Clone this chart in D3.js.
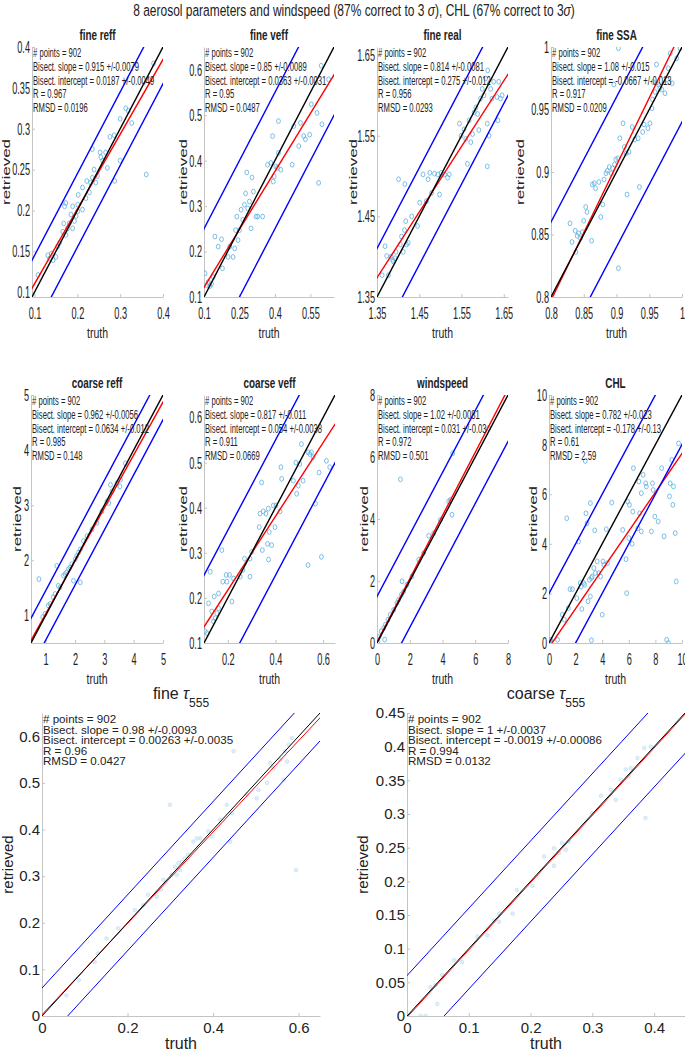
<!DOCTYPE html>
<html>
<head>
<meta charset="utf-8">
<script src="https://cdn.jsdelivr.net/npm/d3@7"></script>
<style>
  body { margin: 0; background: #fff; }
  svg { display: block; }
  text { font-family: "Liberation Sans", Arial, Helvetica, sans-serif; fill: #222; }
</style>
</head>
<body>
<svg id="fig" width="685" height="1050"></svg>
<script>
// ---- data ----
const panelNames = ["fine reff", "fine veff", "fine real", "fine SSA",
  "coarse reff", "coarse veff", "windspeed", "CHL", "fine τ", "coarse τ"];
const nPoints = 902;
const slopes = [0.915, 0.85, 0.814, 1.08, 0.962, 0.817, 1.02, 0.782, 0.98, 1];
const slopeErrs = [0.0079, 0.0089, 0.0081, 0.015, 0.0056, 0.011, 0.0081, 0.023, 0.0093, 0.0037];
const intercepts = [0.0187, 0.0363, 0.275, -0.0667, 0.0634, 0.054, 0.031, -0.178, 0.00263, -0.0019];
const interceptErrs = [0.0049, 0.0031, 0.012, 0.013, 0.012, 0.0038, 0.03, 0.13, 0.0035, 0.00086];
const rValues = [0.967, 0.95, 0.956, 0.917, 0.985, 0.911, 0.972, 0.61, 0.96, 0.994];
const rmsdValues = [0.0196, 0.0487, 0.0293, 0.0209, 0.148, 0.0669, 0.501, 2.59, 0.0427, 0.0132];
const sigma3 = [0.045, 0.15, 0.06, 0.06, 0.45, 0.15, 1.5, 2, 0.06, 0.06];   // 3 sigma band half width
const axisRanges = [[0.094, 0.4], [0.1, 0.65], [1.35, 1.66], [0.8, 1],
  [0.5, 5], [0.1, 0.65], [0, 8], [0, 10], [0, 0.65], [0, 0.45]];
const xTicks = [[0.1, 0.2, 0.3, 0.4], [0.1, 0.25, 0.4, 0.55], [1.35, 1.45, 1.55, 1.65], [0.8, 0.85, 0.9, 0.95, 1],
  [1, 2, 3, 4, 5], [0.2, 0.4, 0.6], [0, 2, 4, 6, 8], [0, 2, 4, 6, 8, 10], [0, 0.2, 0.4, 0.6], [0, 0.1, 0.2, 0.3, 0.4]];
const yTicks = [[0.1, 0.15, 0.2, 0.25, 0.3, 0.35, 0.4], [0.1, 0.2, 0.3, 0.4, 0.5, 0.6], [1.35, 1.45, 1.55, 1.65],
  [0.8, 0.85, 0.9, 0.95, 1], [1, 2, 3, 4, 5], [0.1, 0.2, 0.3, 0.4, 0.5, 0.6], [0, 2, 4, 6, 8], [0, 2, 4, 6, 8, 10],
  [0, 0.1, 0.2, 0.3, 0.4, 0.5, 0.6], [0, 0.05, 0.1, 0.15, 0.2, 0.25, 0.3, 0.35, 0.4, 0.45]];

// scatter points [truth, retrieved]
const fineReffPts = [[0.108,0.121],[0.131,0.145],[0.135,0.141],[0.139,0.147],[0.143,0.139],[0.150,0.143],[0.154,0.156],
  [0.158,0.160],[0.166,0.174],[0.168,0.184],[0.170,0.205],[0.173,0.209],[0.173,0.170],[0.177,0.178],[0.181,0.184],
  [0.185,0.195],[0.189,0.205],[0.189,0.178],[0.193,0.187],[0.197,0.193],[0.201,0.199],[0.202,0.219],[0.201,0.207],
  [0.212,0.228],[0.212,0.201],[0.220,0.215],[0.222,0.236],[0.228,0.222],[0.231,0.234],[0.235,0.240],[0.235,0.275],
  [0.239,0.250],[0.243,0.234],[0.247,0.242],[0.253,0.271],[0.255,0.265],[0.259,0.261],[0.266,0.271],[0.270,0.252],
  [0.276,0.290],[0.286,0.292],[0.287,0.236],[0.300,0.261],[0.300,0.312],[0.313,0.325],[0.319,0.322],[0.327,0.307],
  [0.361,0.244],[0.378,0.380]];
const fineVeffPts = [[0.104,0.152],[0.111,0.126],[0.118,0.133],[0.125,0.124],[0.132,0.129],[0.139,0.144],[0.146,0.233],
  [0.160,0.211],[0.174,0.227],[0.178,0.163],[0.202,0.188],[0.209,0.211],[0.223,0.188],[0.230,0.207],[0.234,0.247],
  [0.239,0.277],[0.244,0.225],[0.250,0.247],[0.257,0.292],[0.264,0.270],[0.271,0.303],[0.276,0.328],[0.281,0.374],
  [0.285,0.295],[0.292,0.310],[0.299,0.251],[0.303,0.363],[0.309,0.332],[0.320,0.277],[0.327,0.277],[0.348,0.277],
  [0.369,0.391],[0.383,0.395],[0.390,0.454],[0.393,0.354],[0.397,0.365],[0.404,0.387],[0.411,0.384],[0.415,0.417],
  [0.415,0.487],[0.425,0.380],[0.473,0.391],[0.480,0.476],[0.501,0.432],[0.508,0.483],[0.522,0.454],[0.529,0.447],
  [0.547,0.457],[0.554,0.524],[0.578,0.505],[0.585,0.351],[0.599,0.480],[0.596,0.609],[0.627,0.579]];
const fineRealPts = [[1.362,1.377],[1.369,1.413],[1.373,1.401],[1.377,1.377],[1.383,1.400],[1.387,1.396],[1.389,1.394],
  [1.393,1.398],[1.395,1.406],[1.401,1.496],[1.405,1.415],[1.408,1.425],[1.412,1.406],[1.415,1.433],[1.416,1.490],
  [1.418,1.444],[1.420,1.415],[1.424,1.417],[1.432,1.450],[1.446,1.438],[1.451,1.467],[1.459,1.502],[1.467,1.469],
  [1.471,1.496],[1.475,1.504],[1.479,1.479],[1.486,1.503],[1.494,1.502],[1.498,1.477],[1.502,1.504],[1.510,1.502],
  [1.517,1.498],[1.521,1.502],[1.545,1.565],[1.549,1.550],[1.556,1.558],[1.560,1.546],[1.564,1.515],[1.568,1.569],
  [1.572,1.542],[1.576,1.552],[1.580,1.579],[1.584,1.585],[1.588,1.577],[1.591,1.557],[1.595,1.596],[1.599,1.608],
  [1.603,1.600],[1.607,1.621],[1.611,1.565],[1.611,1.512],[1.612,1.631],[1.615,1.550],[1.619,1.608],[1.622,1.596],
  [1.626,1.617],[1.634,1.598],[1.636,1.569],[1.638,1.617],[1.642,1.596],[1.646,1.600]];
const fineSsaPts = [[0.829,0.859],[0.832,0.844],[0.837,0.853],[0.838,0.836],[0.840,0.849],[0.842,0.851],[0.845,0.847],
  [0.848,0.852],[0.850,0.861],[0.853,0.872],[0.855,0.868],[0.862,0.845],[0.863,0.890],[0.866,0.891],[0.868,0.887],
  [0.873,0.892],[0.876,0.864],[0.879,0.874],[0.881,0.894],[0.884,0.899],[0.886,0.901],[0.889,0.904],[0.892,0.899],
  [0.894,0.903],[0.897,0.906],[0.899,0.910],[0.902,0.911],[0.903,0.823],[0.905,0.927],[0.910,0.939],[0.912,0.920],
  [0.915,0.915],[0.916,0.882],[0.919,0.916],[0.924,0.936],[0.928,0.926],[0.933,0.927],[0.935,0.888],[0.940,0.932],
  [0.942,0.938],[0.948,0.935],[0.951,0.939],[0.954,0.951],[0.955,0.958],[0.956,0.972],[0.959,0.964],[0.961,0.986],
  [0.964,0.970],[0.966,0.967],[0.969,0.966],[0.974,0.963],[0.977,0.974],[0.979,0.983],[0.982,0.995],[0.985,0.971],
  [0.992,0.991],[0.997,0.999],[0.903,0.999],[0.896,0.970]];
const coarseReffPts = [[0.77,1.66],[0.90,0.97],[0.98,1.03],[1.09,1.18],[1.15,1.21],[1.26,1.33],[1.32,1.39],[1.38,1.90],
  [1.43,1.54],[1.49,1.51],[1.61,1.72],[1.66,1.75],[1.72,1.78],[1.78,1.84],[1.83,1.87],[1.89,1.93],[1.95,1.63],
  [2.01,2.02],[2.06,2.08],[2.12,2.14],[2.18,1.60],[2.18,2.20],[2.29,2.35],[2.41,2.44],[2.58,2.56],[2.75,2.68],
  [2.92,2.89],[3.09,3.07],[3.15,3.04],[3.21,3.37],[3.26,3.25],[3.43,3.40],[3.53,3.34],[3.55,3.46],[3.72,3.76]];
const coarseVeffPts = [[0.105,0.126],[0.112,0.122],[0.119,0.188],[0.126,0.258],[0.133,0.170],[0.140,0.148],[0.143,0.203],
  [0.147,0.155],[0.154,0.166],[0.161,0.210],[0.161,0.177],[0.175,0.306],[0.179,0.236],[0.193,0.251],[0.196,0.236],
  [0.207,0.251],[0.217,0.192],[0.224,0.243],[0.252,0.247],[0.263,0.262],[0.270,0.287],[0.293,0.247],[0.293,0.287],
  [0.300,0.302],[0.332,0.357],[0.335,0.387],[0.342,0.456],[0.345,0.306],[0.349,0.392],[0.360,0.387],[0.367,0.320],
  [0.370,0.398],[0.371,0.285],[0.374,0.346],[0.384,0.317],[0.391,0.405],[0.398,0.357],[0.402,0.405],[0.419,0.392],
  [0.423,0.490],[0.426,0.464],[0.475,0.460],[0.486,0.500],[0.489,0.431],[0.496,0.449],[0.502,0.497],[0.509,0.541],
  [0.516,0.460],[0.537,0.523],[0.544,0.519],[0.551,0.523],[0.558,0.512],[0.568,0.409],[0.583,0.478],[0.537,0.273],
  [0.593,0.291],[0.614,0.504],[0.628,0.490]];
const windPts = [[0.06,0.05],[0.14,0.21],[0.26,0.38],[0.41,0.48],[0.47,0.11],[0.51,0.59],[0.67,0.75],[0.81,0.91],
  [1.02,1.07],[1.22,1.29],[1.32,1.40],[1.43,5.28],[1.49,1.56],[1.53,1.99],[1.63,1.66],[1.83,1.88],[2.14,2.15],
  [2.55,2.69],[2.85,2.90],[3.16,3.46],[3.46,3.54],[3.87,3.97],[4.38,4.57],[4.48,4.62],[4.58,4.14],[4.62,6.12],[6.82,6.93]];
const chlPts = [[0.05,0.07],[0.13,0.13],[0.64,0.13],[1.0,1.14],[1.15,0.94],[1.33,5.03],[1.45,1.41],[1.58,2.17],[1.76,2.17],
  [2.09,1.81],[2.22,4.09],[2.35,2.42],[2.42,2.28],[2.47,1.37],[2.60,2.42],[2.68,2.35],[2.73,7.34],[2.78,5.23],[2.86,4.83],
  [2.93,1.68],[3.04,2.55],[3.11,5.64],[3.11,1.88],[3.19,2.62],[3.19,0.11],[3.24,2.68],[3.37,3.02],[3.44,4.54],[3.49,2.82],
  [3.62,3.29],[3.75,2.82],[3.88,2.68],[4.0,1.14],[4.06,3.29],[4.13,3.15],[4.31,4.59],[4.39,3.22],[4.72,5.66],[5.54,4.56],
  [5.79,3.38],[5.84,2.01],[5.92,5.70],[6.0,4.23],[6.05,5.57],[6.25,4.0],[6.30,5.30],[6.35,7.05],[6.68,4.63],[6.76,6.51],
  [6.81,5.23],[6.94,6.04],[6.94,4.50],[7.07,6.78],[7.27,6.44],[7.32,6.31],[7.70,4.50],[7.78,6.44],[7.83,6.17],[7.96,5.10],
  [8.21,4.90],[8.47,7.05],[8.65,4.30],[8.85,0.13],[8.98,0.0],[9.06,5.91],[9.11,6.44],[9.23,7.38],[9.31,5.57],[9.36,6.31],
  [9.49,4.43],[9.57,2.48],[9.74,8.05]];
const fineTauPts = [[0.057,0.044],[0.086,0.077],[0.123,0.116],[0.131,0.134],[0.151,0.166],[0.178,0.188],[0.217,0.227],
  [0.237,0.238],[0.248,0.260],[0.268,0.256],[0.278,0.272],[0.284,0.292],[0.299,0.453],[0.303,0.303],[0.311,0.320],
  [0.315,0.303],[0.319,0.328],[0.323,0.313],[0.327,0.331],[0.334,0.338],[0.342,0.346],[0.354,0.374],[0.362,0.381],
  [0.370,0.381],[0.389,0.396],[0.397,0.385],[0.416,0.421],[0.432,0.453],[0.440,0.374],[0.444,0.435],[0.448,0.568],
  [0.479,0.475],[0.502,0.467],[0.506,0.485],[0.526,0.500],[0.534,0.543],[0.541,0.532],[0.557,0.550],[0.565,0.507],
  [0.569,0.568],[0.573,0.546],[0.577,0.582],[0.584,0.596],[0.594,0.313]];
const coarseTauPts = [[0.022,0.0],[0.030,0.0],[0.038,0.043],[0.046,0.046],[0.049,0.018],[0.057,0.061],[0.076,0.083],
  [0.089,0.080],[0.114,0.118],[0.130,0.120],[0.141,0.142],[0.149,0.152],[0.149,0.140],[0.171,0.152],[0.178,0.187],
  [0.203,0.193],[0.222,0.237],[0.238,0.223],[0.238,0.249],[0.246,0.242],[0.251,0.257],[0.257,0.247],[0.262,0.259],
  [0.300,0.301],[0.314,0.327],[0.330,0.336],[0.338,0.321],[0.346,0.351],[0.354,0.366],[0.359,0.356],[0.362,0.368],
  [0.373,0.383],[0.384,0.398],[0.386,0.294],[0.395,0.400]];
const allPts = [fineReffPts, fineVeffPts, fineRealPts, fineSsaPts, coarseReffPts, coarseVeffPts,
  windPts, chlPts, fineTauPts, coarseTauPts];

// ---- layout ----
const boxes = [ // left, top, width, height
  [32, 47, 131, 250], [204, 47, 130, 250], [377, 47, 131, 250], [551, 47, 131, 250],
  [31, 395, 132, 248], [204, 395, 131, 248], [377, 395, 131, 248], [549, 395, 133, 248],
  [42, 713, 278, 303], [407, 713, 278, 303]];
const ylabX = [10, 187, 357, 524, 21, 187, 368, 537, 13, 368];

// the 8 small panels are squeezed horizontally in the original figure
const smallStyle = { tickFont: 17, tickSx: 0.54, xPad: 10, statFont: 13, statSx: 0.59, statY: 10, statDy: 13.75,
  titleFont: 15, titleSx: 0.66, titleY: -7, titleBold: true, truthFont: 15, truthSx: 0.7, truthY: 41,
  ylabFont: 17, ylabSx: 0.6, lineW: 1.4 };
const bigStyle = { tickFont: 15, tickSx: 1, xPad: 6, statFont: 11.6, statSx: 1, statY: 10, statDy: 10.5,
  titleFont: 16, titleSx: 1, titleY: -14, titleBold: false, truthFont: 16, truthSx: 1, truthY: 33,
  ylabFont: 15, ylabSx: 1, lineW: 1 };

const svg = d3.select("#fig");

// super title, fitted to the width it has in the figure
const sup = svg.append("g").attr("transform", "translate(354,16)");
const supText = sup.append("text").attr("text-anchor", "middle").attr("font-size", 17);
supText.append("tspan").text("8 aerosol parameters and windspeed (87% correct to 3 ");
supText.append("tspan").attr("font-style", "italic").text("σ");
supText.append("tspan").text("), CHL (67% correct to 3");
supText.append("tspan").attr("font-style", "italic").text("σ");
supText.append("tspan").text(")");
const supLen = supText.node().getComputedTextLength();
sup.attr("transform", `translate(354,16) scale(${442 / supLen},1)`);

boxes.forEach((b, i) => {
  const [L, T, W, H] = b;
  const st = i < 8 ? smallStyle : bigStyle;
  const x = d3.scaleLinear().domain(axisRanges[i]).range([0, W]);
  const y = d3.scaleLinear().domain(axisRanges[i]).range([H, 0]);
  const g = svg.append("g").attr("transform", `translate(${L},${T})`);

  g.append("clipPath").attr("id", "clip" + i)
    .append("rect").attr("width", W).attr("height", H);

  // axes
  const xa = g.append("g").attr("transform", `translate(0,${H})`)
    .call(d3.axisBottom(x).tickValues(xTicks[i]).tickFormat(d => String(d))
      .tickSizeInner(-3).tickSizeOuter(0).tickPadding(st.xPad));
  const ya = g.append("g")
    .call(d3.axisLeft(y).tickValues(yTicks[i]).tickFormat(d => String(d))
      .tickSizeInner(-3).tickSizeOuter(0).tickPadding(2));
  [xa, ya].forEach(a => {
    a.attr("font-family", null).attr("font-size", null);
    a.select(".domain").attr("stroke", "#c4c4c4");
    a.selectAll(".tick line").attr("stroke", "#c4c4c4");
    a.selectAll(".tick text").attr("font-size", st.tickFont).attr("fill", "#262626");
  });
  xa.selectAll(".tick text").attr("transform", `scale(${st.tickSx},1)`);
  ya.selectAll(".tick text").attr("x", 0).attr("transform", `translate(-2,0) scale(${st.tickSx},1)`);

  // scatter
  const pg = g.append("g").attr("clip-path", `url(#clip${i})`);
  if (i < 8) {
    pg.selectAll("ellipse").data(allPts[i]).enter().append("ellipse")
      .attr("cx", d => x(d[0])).attr("cy", d => y(d[1]))
      .attr("rx", 1.9).attr("ry", 2.4)
      .attr("fill", "none").attr("stroke", "#5aaee0").attr("stroke-width", 0.8);
  } else {
    pg.selectAll("circle").data(allPts[i]).enter().append("circle")
      .attr("cx", d => x(d[0])).attr("cy", d => y(d[1])).attr("r", 1.8)
      .attr("fill", "#e2f0fa").attr("stroke", "#bddcf2").attr("stroke-width", 0.7);
  }

  // lines: fit (red), 1:1 (black), +/- 3 sigma (blue)
  const [d0, d1] = axisRanges[i];
  const ext = (d1 - d0) * 0.5;
  const xs = [d0 - ext, d1 + ext];
  const lineFor = f => xs.map(v => [x(v), y(f(v))]);
  const lines = [
    { pts: lineFor(v => slopes[i] * v + intercepts[i]), c: "#ff0000" },
    { pts: lineFor(v => v), c: "#000000" },
    { pts: lineFor(v => v + sigma3[i]), c: "#0000ff" },
    { pts: lineFor(v => v - sigma3[i]), c: "#0000ff" }
  ];
  pg.selectAll("path.fit").data(lines).enter().append("path")
    .attr("class", "fit")
    .attr("d", d => d3.line()(d.pts))
    .attr("fill", "none").attr("stroke", d => d.c).attr("stroke-width", st.lineW);

  // statistics text
  const stats = [
    `# points = ${nPoints}`,
    `Bisect. slope = ${slopes[i]} +/-${slopeErrs[i]}`,
    `Bisect. intercept = ${intercepts[i]} +/-${interceptErrs[i]}`,
    `R = ${rValues[i]}`,
    `RMSD = ${rmsdValues[i]}`
  ];
  stats.forEach((s, k) => {
    g.append("g").attr("transform", `translate(1,${st.statY + k * st.statDy}) scale(${st.statSx},1)`)
      .append("text").attr("font-size", st.statFont).attr("fill", "#111").text(s);
  });

  // panel title
  const tg = g.append("g").attr("transform", `translate(${W / 2},${st.titleY}) scale(${st.titleSx},1)`);
  const tt = tg.append("text").attr("text-anchor", "middle").attr("font-size", st.titleFont)
    .attr("font-weight", st.titleBold ? "bold" : "normal").attr("fill", "#000");
  if (i < 8) {
    tt.text(panelNames[i]);
  } else {
    const parts = panelNames[i].split("τ");
    tt.append("tspan").text(parts[0]);
    tt.append("tspan").attr("font-style", "italic").text("τ");
    tt.append("tspan").attr("font-size", 12).attr("dy", 8).text("555");
  }

  // axis labels
  g.append("g").attr("transform", `translate(${W / 2},${H + st.truthY}) scale(${st.truthSx},1)`)
    .append("text").attr("text-anchor", "middle").attr("font-size", st.truthFont).text("truth");
  g.append("g").attr("transform", `translate(${ylabX[i] - L},${H / 2}) scale(${st.ylabSx},1) rotate(-90)`)
    .append("text").attr("text-anchor", "middle").attr("font-size", st.ylabFont).text("retrieved");
});
</script>
</body>
</html>
